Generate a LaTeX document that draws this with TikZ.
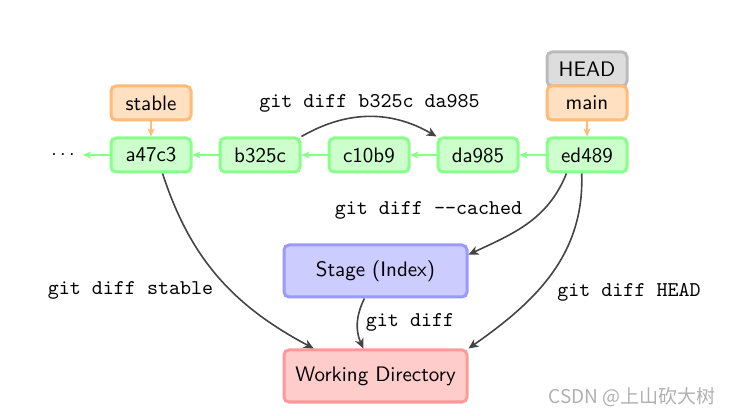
\documentclass[tikz,border=0pt]{standalone}
\usepackage{fontspec}
\newfontfamily\cjkfont{Noto Sans CJK SC}
\usetikzlibrary{arrows.meta}
\definecolor{gfill}{HTML}{CCFFCC}
\definecolor{gbord}{HTML}{88FF88}
\definecolor{ofill}{HTML}{FFE0C0}
\definecolor{obord}{HTML}{FFBB77}
\definecolor{hfill}{HTML}{DDDDDD}
\definecolor{hbord}{HTML}{BBBBBB}
\definecolor{bfill}{HTML}{CCCCFF}
\definecolor{bbord}{HTML}{9999FF}
\definecolor{rfill}{HTML}{FFCCCC}
\definecolor{rbord}{HTML}{FF9999}
\definecolor{darr}{HTML}{444444}
\definecolor{wmark}{HTML}{B0B0B0}
\begin{document}
\begin{tikzpicture}[x=0.5pt,y=0.5pt,
  box/.style={draw, line width=1.5pt, rounded corners=2.5pt, inner sep=0pt,
    text=black, font=\sffamily\fontsize{10.5}{12}\selectfont},
  commit/.style={box, draw=gbord, fill=gfill, minimum width=40pt, minimum height=17pt},
  branch/.style={box, draw=obord, fill=ofill, minimum width=40pt, minimum height=17pt},
  headbox/.style={box, draw=hbord, fill=hfill, minimum width=40pt, minimum height=17pt},
  area/.style={box, minimum width=91.5pt, minimum height=26pt},
  cmd/.style={font=\ttfamily\fontsize{10.5}{12}\selectfont, inner sep=0pt},
  garr/.style={draw=gbord, line width=0.8pt, -{Stealth[length=4pt,width=3.5pt,inset=1pt]}},
  oarr/.style={draw=obord, line width=0.8pt, -{Stealth[length=4pt,width=3.5pt,inset=1pt]}},
  darrow/.style={draw=darr, line width=0.8pt, -{Stealth[length=5pt,width=4.5pt,inset=1.5pt]}}
]
\useasboundingbox (0,0) rectangle (733,-416);

\node[headbox] (head) at (587,-69) {HEAD};
\node[branch] (main) at (587,-103) {main};
\node[branch] (stable) at (151,-103) {stable};

\node[commit] (a47c3) at (151,-155) {a47c3};
\node[commit] (b325c) at (260,-155) {b325c};
\node[commit] (c10b9) at (369,-155) {c10b9};
\node[commit] (da985) at (478,-155) {da985};
\node[commit] (ed489) at (587,-155) {ed489};
\node[inner sep=0pt] (dots) at (63,-155) {$\cdots$};

\node[area, draw=bbord, fill=bfill] (stage) at (375.5,-271) {Stage (Index)};
\node[area, draw=rbord, fill=rfill] (work) at (375.5,-376) {Working Directory};

\draw[garr] (ed489.west) -- (da985.east);
\draw[garr] (da985.west) -- (c10b9.east);
\draw[garr] (c10b9.west) -- (b325c.east);
\draw[garr] (b325c.west) -- (a47c3.east);
\draw[garr] (a47c3.west) -- ([xshift=4pt]dots.east);
\draw[oarr] (stable.south) -- (a47c3.north);
\draw[oarr] (main.south) -- (ed489.north);

\draw[darrow] (b325c.north east) to[bend left=30] (da985.north west);
\draw[darrow] (ed489.-138) to[out=-112, in=25] (stage.10);
\draw[darrow] (ed489.-106) to[out=-88, in=35] (work.north east);
\draw[darrow] (a47c3.-58) to[out=-72, in=152] (work.156);
\draw[darrow] (stage.-112) to[bend right=25] (work.114);

\node[cmd] (l1) at (369.5,-103) {git diff b325c da985};
\node[cmd] (l2) at (428.5,-210) {git diff --cached};
\node[cmd] (l3) at (130.5,-290) {git diff stable};
\node[cmd] (l4) at (410,-322) {git diff};
\node[cmd] (l5) at (629,-292) {git diff HEAD};

\node[text=wmark, inner sep=0pt, font=\cjkfont\fontsize{9.5}{11}\selectfont] (wm) at (632,-397) {CSDN @上山砍大树};
\end{tikzpicture}
\end{document}
